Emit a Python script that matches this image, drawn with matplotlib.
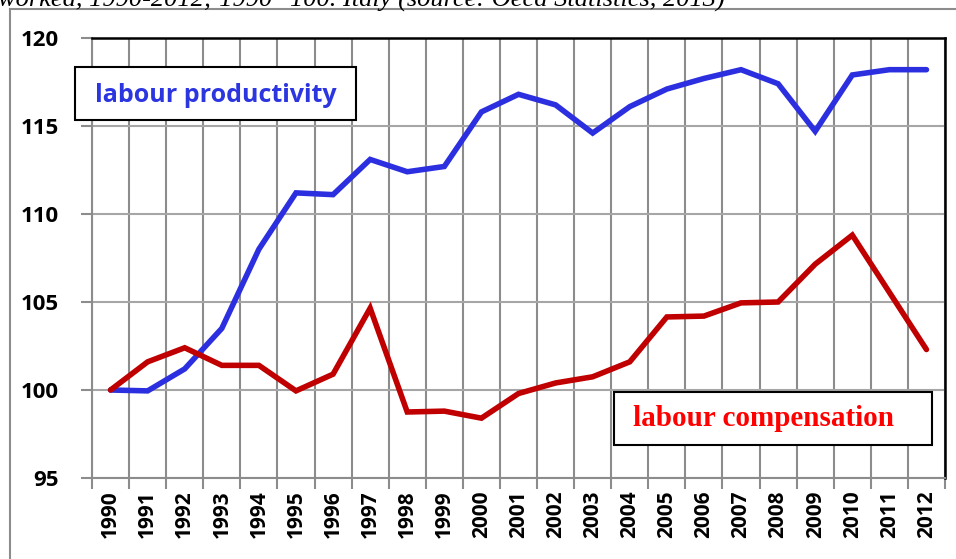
import matplotlib
matplotlib.use("Agg")
import matplotlib.pyplot as plt
from matplotlib.lines import Line2D

years = list(range(1990, 2013))
year_labels = [str(y) for y in years]
productivity = [100.0, 99.95, 101.2, 103.5, 108.0, 111.2, 111.1, 113.1, 112.4, 112.7,
                115.8, 116.8, 116.2, 114.6, 116.1, 117.1, 117.7, 118.2, 117.4, 114.7,
                117.9, 118.2, 118.2]
compensation = [100.0, 101.6, 102.4, 101.4, 101.4, 99.95, 100.9, 104.65, 98.75, 98.8,
                98.4, 99.8, 100.4, 100.75, 101.6, 104.15, 104.2, 104.95, 105.0, 107.15,
                108.8, 105.55, 102.3]
y_ticks = [95, 100, 105, 110, 115, 120]
title_text = "worked, 1990-2012; 1990=100. Italy (source: Oecd Statistics, 2013)"
label_prod = "labour productivity"
label_comp = "labour compensation"

W, H = 956, 559
fig = plt.figure(figsize=(W / 100, H / 100), dpi=100)

def fx(px):
    return px / W

def fy(py):
    return 1 - py / H

ax = fig.add_axes([fx(92), fy(478), fx(945) - fx(92), fy(38) - fy(478)])

x = list(range(len(years)))
ax.plot(x, productivity, color="#2B2FE0", lw=4.0, solid_capstyle="round", solid_joinstyle="miter", zorder=3)
ax.plot(x, compensation, color="#C00000", lw=4.0, solid_capstyle="round", solid_joinstyle="miter", zorder=3)

ax.set_xlim(-0.5, len(years) - 0.5)
ax.set_ylim(95, 120)

bounds = [i - 0.5 for i in range(len(years) + 1)]
ax.set_xticks(bounds)
ax.set_xticklabels([])
ax.set_xticks(x, minor=True)
ax.set_xticklabels(year_labels, minor=True, rotation=90, fontsize=15,
                   fontweight="bold", family="Open Sans")
ax.tick_params(axis="x", which="major", length=8, width=1.5, color="#8C8C8C", direction="out")
ax.tick_params(axis="x", which="minor", length=0, pad=9)

ax.set_yticks(y_ticks)
ax.set_yticklabels([str(v) for v in y_ticks], fontsize=16, fontweight="bold", family="Open Sans")
ax.tick_params(axis="y", length=8, width=1.5, color="#8C8C8C", pad=16)

ax.grid(True, which="major", axis="x", color="#8C8C8C", lw=1.5)
ax.grid(True, which="major", axis="y", color="#A6A6A6", lw=1.5)
ax.set_axisbelow(True)

ax.spines["top"].set_color("black")
ax.spines["top"].set_linewidth(1.8)
ax.spines["right"].set_color("black")
ax.spines["right"].set_linewidth(1.8)
ax.spines["left"].set_color("#8C8C8C")
ax.spines["left"].set_linewidth(1.5)
ax.spines["bottom"].set_color("#8C8C8C")
ax.spines["bottom"].set_linewidth(1.5)

box1 = plt.Rectangle((fx(75), fy(120)), fx(356) - fx(75), fy(67) - fy(120),
                     transform=fig.transFigure, facecolor="white", edgecolor="black",
                     lw=1.5, zorder=5)
fig.patches.append(box1)
fig.text(fx(95), fy(95), label_prod, color="#2B35E0", fontsize=18, fontweight="bold",
         family="Open Sans", va="center", ha="left", zorder=6)

box2 = plt.Rectangle((fx(614), fy(445)), fx(932) - fx(614), fy(392) - fy(445),
                     transform=fig.transFigure, facecolor="white", edgecolor="black",
                     lw=1.5, zorder=5)
fig.patches.append(box2)
fig.text(fx(633), fy(419), label_comp, color="#FF0000", fontsize=21, fontweight="bold",
         family="Liberation Serif", va="center", ha="left", zorder=6)

fig.add_artist(Line2D([fx(10), fx(10)], [fy(9), 0], transform=fig.transFigure,
                      color="#8C8C8C", lw=1.5))
fig.add_artist(Line2D([fx(10), 1], [fy(9), fy(9)], transform=fig.transFigure,
                      color="#8C8C8C", lw=1.5))

fig.text(fx(-2), fy(7), title_text, fontsize=19, style="italic",
         family="Liberation Serif", ha="left", va="baseline")

fig.savefig("out.png", dpi=100)
